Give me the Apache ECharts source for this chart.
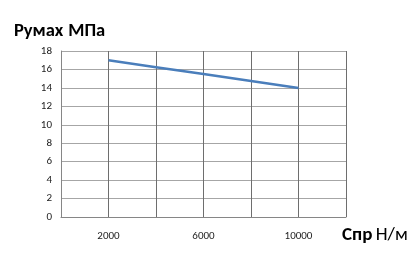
<!DOCTYPE html>
<html><head><meta charset="utf-8">
<script src="https://cdn.jsdelivr.net/npm/echarts@6/dist/echarts.min.js"></script>
<style>html,body{margin:0;padding:0;background:#fff}#c{width:416px;height:254px}</style>
</head><body><div id="c"></div>
<script>
const xValues = [2000, 4000, 6000, 8000, 10000];
const pressure = [17, 16.25, 15.5, 14.75, 14];
const xTickLabels = [2000, 6000, 10000];
const yTitleBold = 'Румах', yTitleUnit = 'МПа';
const xTitleBold = 'Спр', xTitleUnit = 'Н/м';

const chart = echarts.init(document.getElementById('c'), null, {renderer: 'canvas'});
const font = 'Calibri, Carlito, "Open Sans", "Noto Sans", sans-serif';
chart.setOption({
  animation: false,
  grid: {left: 61, right: 70, top: 51, bottom: 37},
  title: {
    text: '{b|' + yTitleBold + '} {n|' + yTitleUnit + '}',
    left: 9, top: 17,
    textStyle: {rich: {
      b: {fontFamily: font, fontSize: 18.5, fontWeight: 'bold', color: '#000'},
      n: {fontFamily: font, fontSize: 18.5, color: '#000'}
    }}
  },
  graphic: [{
    type: 'text', left: 342, top: 226,
    style: {text: '{b|' + xTitleBold + '} {n|' + xTitleUnit + '}', rich: {
      b: {fontFamily: font, fontSize: 19, fontWeight: 'bold', fill: '#000'},
      n: {fontFamily: font, fontSize: 19, fill: '#000'}
    }}
  }],
  xAxis: {
    type: 'value', min: 0, max: 12000, interval: 2000,
    axisLine: {show: true, lineStyle: {color: '#868686'}},
    axisTick: {show: false},
    splitLine: {show: true, lineStyle: {color: '#6e6e6e', width: 1}},
    axisLabel: {
      margin: 14, color: '#222', fontSize: 11, fontFamily: font,
      formatter: v => xTickLabels.includes(v) ? String(v) : ''
    }
  },
  yAxis: {
    type: 'value', min: 0, max: 18, interval: 2,
    axisLine: {show: true, lineStyle: {color: '#868686'}},
    axisTick: {show: false},
    splitLine: {show: true, lineStyle: {color: '#a6a6a6', width: 1}},
    axisLabel: {margin: 9, color: '#222', fontSize: 11, fontFamily: font}
  },
  series: [{
    type: 'line',
    data: xValues.map((x, i) => [x, pressure[i]]),
    showSymbol: false,
    lineStyle: {color: '#4a7ebb', width: 2.5}
  }]
});
</script></body></html>
